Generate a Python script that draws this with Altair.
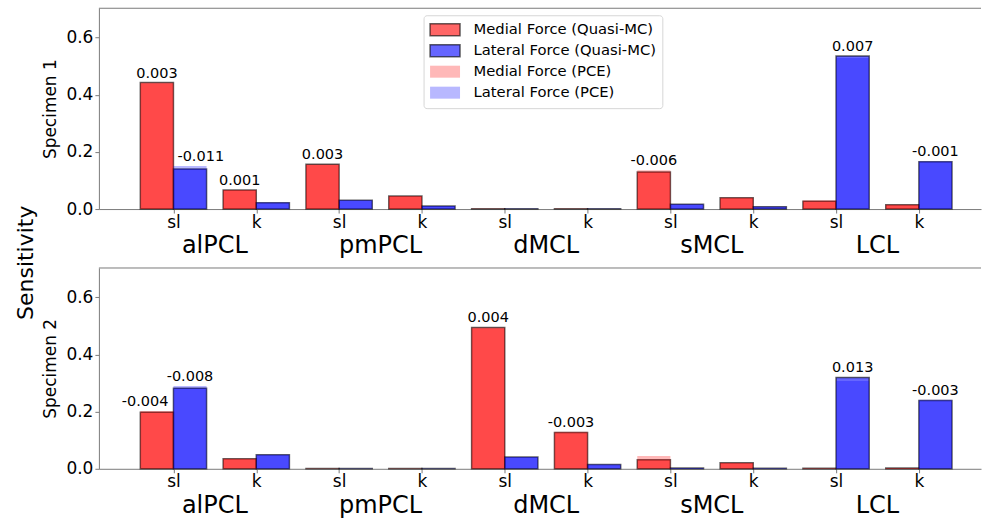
import altair as alt
import pandas as pd

# Ligaments and their two parameters along the x axis
ligaments = ["alPCL", "pmPCL", "dMCL", "sMCL", "LCL"]
parameters = ["sl", "k"]

# Sensitivity indices, ordered alPCL-sl, alPCL-k, pmPCL-sl, ... LCL-k
s1_medial_qmc = [0.443, 0.067, 0.157, 0.046, 0.001, 0.001, 0.130, 0.040, 0.027, 0.015]
s1_medial_pce = [0.440, 0.066, 0.154, 0.045, 0.001, 0.001, 0.136, 0.040, 0.031, 0.015]
s1_lateral_qmc = [0.140, 0.022, 0.031, 0.011, 0.001, 0.001, 0.017, 0.008, 0.536, 0.166]
s1_lateral_pce = [0.151, 0.024, 0.031, 0.011, 0.001, 0.001, 0.017, 0.008, 0.529, 0.167]

s2_medial_qmc = [0.198, 0.035, 0.001, 0.001, 0.495, 0.127, 0.032, 0.021, 0.002, 0.003]
s2_medial_pce = [0.202, 0.035, 0.001, 0.001, 0.491, 0.130, 0.045, 0.020, 0.002, 0.003]
s2_lateral_qmc = [0.282, 0.049, 0.001, 0.001, 0.041, 0.015, 0.003, 0.002, 0.320, 0.239]
s2_lateral_pce = [0.290, 0.049, 0.001, 0.001, 0.041, 0.015, 0.003, 0.002, 0.307, 0.242]

series_names = [
    "Medial Force (Quasi-MC)",
    "Lateral Force (Quasi-MC)",
    "Medial Force (PCE)",
    "Lateral Force (PCE)",
]
# translucent fills so the PCE bars show through the Quasi-MC ones
series_fill = [
    "rgba(255,0,0,0.6)", "rgba(0,0,255,0.6)",
    "rgba(255,0,0,0.28)", "rgba(0,0,255,0.28)",
]
series_stroke = ["rgba(0,0,0,0.6)", "rgba(0,0,0,0.6)", "transparent", "transparent"]

tables = {
    ("Specimen 1", "Medial", "Quasi-MC"): s1_medial_qmc,
    ("Specimen 1", "Medial", "PCE"): s1_medial_pce,
    ("Specimen 1", "Lateral", "Quasi-MC"): s1_lateral_qmc,
    ("Specimen 1", "Lateral", "PCE"): s1_lateral_pce,
    ("Specimen 2", "Medial", "Quasi-MC"): s2_medial_qmc,
    ("Specimen 2", "Medial", "PCE"): s2_medial_pce,
    ("Specimen 2", "Lateral", "Quasi-MC"): s2_lateral_qmc,
    ("Specimen 2", "Lateral", "PCE"): s2_lateral_pce,
}

rows = []
for (spec, side, method), vals in tables.items():
    for i, v in enumerate(vals):
        rows.append({
            "specimen": spec, "side": side, "method": method, "idx": i,
            "value": v, "series": f"{side} Force ({method})",
        })
df = pd.DataFrame(rows)
groups_df = pd.DataFrame({"ligament": ligaments, "g": list(range(len(ligaments)))})
edge_df = pd.DataFrame({"edge": [0]})

W, H = 883, 201
AX = "#7a7a7a"
FONT = "DejaVu Sans"

x_scale = alt.Scale(domain=[-0.9, 9.75], nice=False, zero=False)
y_scale = alt.Scale(domain=[0, 0.703], nice=False, zero=False)

x_axis = alt.Axis(
    values=list(range(10)),
    labelExpr=f"{parameters}[datum.value % 2]",
    title=None, grid=False, tickSize=4, labelFontSize=17, labelPadding=1,
    domainColor=AX, tickColor=AX, labelColor="black", labelFont=FONT,
)

# wide flat swatches, like patch handles
legend = alt.Legend(
    orient="none", legendX=325, legendY=7, title=None,
    symbolType="M-2,-0.8H2V0.8H-2Z", symbolSize=225, symbolStrokeWidth=1.5,
    symbolOffset=7, labelFontSize=14.8, labelFont=FONT, labelColor="black",
    labelOffset=20, labelLimit=300,
    fillColor="white", strokeColor="#d6d6d6", cornerRadius=3, padding=6,
    rowPadding=2,
)


def panel(spec):
    y_axis = alt.Axis(
        values=[0, 0.2, 0.4, 0.6], format=".1f", title=spec, grid=False,
        tickSize=4, labelFontSize=17, labelPadding=2, titleFontSize=17,
        titleFontWeight="normal", titlePadding=6, domainColor=AX, tickColor=AX,
        labelColor="black", titleColor="black", labelFont=FONT, titleFont=FONT,
    )
    base = alt.Chart(df).transform_filter(alt.datum.specimen == spec)

    bar_enc = dict(
        x=alt.X("x0:Q", scale=x_scale, axis=x_axis),
        x2="x1:Q",
        y=alt.Y("value:Q", scale=y_scale, axis=y_axis),
        y2=alt.Y2Datum(0),
        fill=alt.Fill("series:N", scale=alt.Scale(domain=series_names, range=series_fill), legend=legend),
        stroke=alt.Stroke("series:N", scale=alt.Scale(domain=series_names, range=series_stroke), legend=legend),
    )
    bars = base.transform_calculate(
        x0="datum.idx + (datum.side == 'Medial' ? -0.4 : 0)",
        x1="datum.idx + (datum.side == 'Medial' ? 0 : 0.4)",
    )
    qmc = bars.transform_filter(alt.datum.method == "Quasi-MC").mark_bar(
        strokeWidth=1.5, opacity=1).encode(**bar_enc)
    pce = bars.transform_filter(alt.datum.method == "PCE").mark_bar(
        strokeWidth=1.5, opacity=1).encode(**bar_enc)

    # difference Quasi-MC minus PCE written above the larger bars;
    # a label next to a taller neighbour is pushed away from it
    lab = base.transform_calculate(
        signed="datum.method == 'Quasi-MC' ? datum.value : -datum.value"
    ).transform_joinaggregate(
        diff="sum(signed)", top="max(value)", groupby=["idx", "side"]
    ).transform_joinaggregate(
        pairtop="max(value)", groupby=["idx"]
    ).transform_filter(
        "datum.method == 'Quasi-MC' && datum.value > 0.05"
    ).transform_calculate(
        xm="datum.idx + (datum.side == 'Medial' ? -0.2 : 0.2)",
        blocked="datum.top < datum.pairtop",
        txt="replace(format(datum.diff, '.3f'), '\u2212', '-')",
    )
    text_style = dict(baseline="alphabetic", dy=-5, fontSize=14.5, font=FONT, color="black")
    y_top = alt.Y("top:Q", scale=y_scale, axis=y_axis)
    free = lab.transform_filter("!datum.blocked").mark_text(**text_style).encode(
        x=alt.X("xm:Q", scale=x_scale, axis=x_axis), y=y_top, text="txt:N"
    )
    left = lab.transform_filter("datum.blocked && datum.side == 'Medial'").mark_text(
        align="right", dx=-5, **text_style
    ).encode(x=alt.X("idx:Q", scale=x_scale, axis=x_axis), y=y_top, text="txt:N")
    right = lab.transform_filter("datum.blocked && datum.side == 'Lateral'").mark_text(
        align="left", dx=4, **text_style
    ).encode(x=alt.X("idx:Q", scale=x_scale, axis=x_axis), y=y_top, text="txt:N")

    group_names = alt.Chart(groups_df).transform_calculate(
        pos="datum.g * 2 + 0.5"
    ).mark_text(baseline="alphabetic", fontSize=24, font=FONT, color="black").encode(
        x=alt.X("pos:Q", scale=x_scale, axis=x_axis),
        y=alt.value(H + 44),
        text="ligament:N",
    )

    top_edge = alt.Chart(edge_df).mark_rule(color=AX, strokeWidth=1).encode(
        x=alt.value(0), x2=alt.value(W), y=alt.value(0)
    )

    return alt.layer(qmc, pce, free, left, right, group_names, top_edge).properties(width=W, height=H)


chart = alt.vconcat(
    panel("Specimen 1"), panel("Specimen 2"), spacing=59, bounds="flush"
).properties(
    title=alt.TitleParams(
        "Sensitivity", orient="left", anchor="middle", fontSize=22,
        fontWeight="normal", font=FONT, color="black", offset=4,
    ),
    padding={"left": 14, "top": 7, "right": 0, "bottom": 0},
).configure_view(stroke=None)

chart.save("out.html", embed_options={"renderer": "svg", "actions": False})
